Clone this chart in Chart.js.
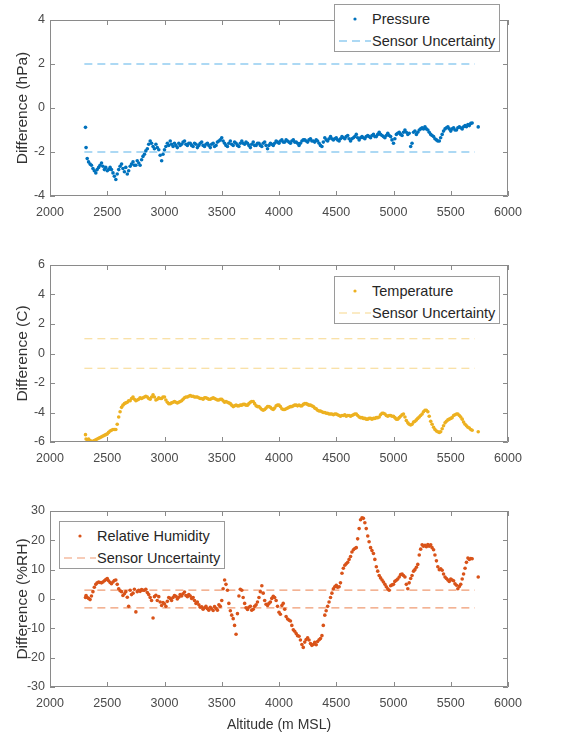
<!DOCTYPE html>
<html>
<head>
<meta charset="utf-8">
<script src="https://cdn.jsdelivr.net/npm/chart.js@4.4.1/dist/chart.umd.min.js"></script>
<style>
  body { margin: 0; background: #fff; }
  #wrap { position: relative; width: 582px; height: 734px; overflow: hidden; font-family: "Liberation Sans", Arial, sans-serif; }
  #wrap canvas { position: absolute; left: 0; }
  .legend { position: absolute; width: 166px; height: 48px; background: #fff; border: 1px solid #9a9a9a; box-sizing: border-box; color: #262626; font-size: 14.5px; }
  .legend span { position: absolute; left: 37px; white-space: nowrap; line-height: 16px; margin-top: -8px; }
  .legend svg { position: absolute; }
</style>
</head>
<body>
<div id="wrap">
  <canvas id="chartPressure" width="582" height="232" style="top:0px"></canvas>
  <canvas id="chartTemperature" width="582" height="232" style="top:245px"></canvas>
  <canvas id="chartHumidity" width="582" height="243" style="top:491px"></canvas>
</div>
<script>
// altitude of each sample (m MSL)
const altitude = [
  2310, 2315,
  2325, 2337, 2350, 2362, 2375, 2387, 2400, 2412, 2425, 2437, 2450, 2462, 2475, 2487, 2500, 2512, 2525, 2537, 2550, 2562,
  2575, 2587, 2600, 2612, 2625, 2637, 2650, 2662, 2675, 2687, 2700, 2712, 2725, 2737, 2750, 2762, 2775, 2787, 2800, 2812,
  2825, 2837, 2850, 2862, 2875, 2887, 2900, 2912, 2925, 2937, 2950, 2962, 2975, 2987, 3000, 3012, 3025, 3037, 3050, 3062,
  3075, 3087, 3100, 3112, 3125, 3137, 3150, 3162, 3175, 3187, 3200, 3212, 3225, 3237, 3250, 3262, 3275, 3287, 3300, 3312,
  3325, 3337, 3350, 3362, 3375, 3387, 3400, 3412, 3425, 3437, 3450, 3462, 3475, 3487, 3500, 3512, 3525, 3537, 3550, 3562,
  3575, 3587, 3600, 3612, 3625, 3637, 3650, 3662, 3675, 3687, 3700, 3712, 3725, 3737, 3750, 3762, 3775, 3787, 3800, 3812,
  3825, 3837, 3850, 3862, 3875, 3887, 3900, 3912, 3925, 3937, 3950, 3962, 3975, 3987, 4000, 4012, 4025, 4037, 4050, 4062,
  4075, 4087, 4100, 4112, 4125, 4137, 4150, 4162, 4175, 4187, 4200, 4212, 4225, 4237, 4250, 4262, 4275, 4287, 4300, 4312,
  4325, 4337, 4350, 4362, 4375, 4387, 4400, 4412, 4425, 4437, 4450, 4462, 4475, 4487, 4500, 4512, 4525, 4537, 4550, 4562,
  4575, 4587, 4600, 4612, 4625, 4637, 4650, 4662, 4675, 4687, 4700, 4712, 4725, 4737, 4750, 4762, 4775, 4787, 4800, 4812,
  4825, 4837, 4850, 4862, 4875, 4887, 4900, 4912, 4925, 4937, 4950, 4962, 4975, 4987, 5000, 5012, 5025, 5037, 5050, 5062,
  5075, 5087, 5100, 5112, 5125, 5137, 5150, 5162, 5175, 5187, 5200, 5212, 5225, 5237, 5250, 5262, 5275, 5287, 5300, 5312,
  5325, 5337, 5350, 5362, 5375, 5387, 5400, 5412, 5425, 5437, 5450, 5462, 5475, 5487, 5500, 5512, 5525, 5537, 5550, 5562,
  5575, 5587, 5600, 5612, 5625, 5637, 5650, 5662, 5675, 5687,
  5740
];

// difference (hPa)
const pressureDiff = [
  -0.88, -1.8,
  -2.3, -2.45, -2.55, -2.6, -2.75, -2.85, -2.95, -2.8, -2.7, -2.6, -2.5, -2.65, -2.8, -2.7, -2.85, -2.8, -2.7, -2.8, -2.95, -3.1,
  -3.25, -3.0, -2.8, -2.65, -2.55, -2.75, -2.9, -2.7, -3.0, -2.85, -2.65, -2.55, -2.45, -2.6, -2.6, -2.4, -2.5, -2.6, -2.35, -2.2,
  -2.1, -1.95, -1.85, -1.65, -1.5, -1.6, -1.75, -1.85, -1.65, -1.8, -1.9, -2.15, -2.4, -2.1, -1.9, -1.75, -1.6, -1.7, -1.5, -1.65,
  -1.75, -1.6, -1.7, -1.8, -1.6, -1.7, -1.65, -1.55, -1.5, -1.65, -1.7, -1.6, -1.6, -1.7, -1.75, -1.6, -1.65, -1.8, -1.7, -1.6,
  -1.55, -1.7, -1.75, -1.65, -1.6, -1.7, -1.8, -1.65, -1.6, -1.75, -1.7, -1.55, -1.5, -1.45, -1.35, -1.5, -1.6, -1.7, -1.75, -1.6,
  -1.5, -1.65, -1.7, -1.55, -1.6, -1.7, -1.75, -1.6, -1.5, -1.6, -1.65, -1.55, -1.6, -1.7, -1.8, -1.65, -1.55, -1.7, -1.7, -1.6,
  -1.6, -1.7, -1.75, -1.6, -1.55, -1.7, -1.85, -1.7, -1.6, -1.65, -1.7, -1.6, -1.5, -1.55, -1.6, -1.5, -1.45, -1.55, -1.55, -1.45,
  -1.5, -1.55, -1.6, -1.5, -1.45, -1.55, -1.55, -1.6, -1.7, -1.6, -1.5, -1.45, -1.45, -1.5, -1.55, -1.45, -1.4, -1.5, -1.5, -1.55,
  -1.45, -1.5, -1.6, -1.7, -1.75, -1.55, -1.35, -1.45, -1.5, -1.4, -1.3, -1.4, -1.45, -1.4, -1.35, -1.45, -1.5, -1.4, -1.3, -1.35,
  -1.4, -1.3, -1.25, -1.4, -1.5, -1.4, -1.35, -1.3, -1.2, -1.35, -1.45, -1.35, -1.3, -1.35, -1.4, -1.3, -1.25, -1.3, -1.35, -1.25,
  -1.2, -1.3, -1.3, -1.2, -1.1, -1.2, -1.25, -1.3, -1.35, -1.25, -1.15, -1.25, -1.3, -1.45, -1.6, -1.4, -1.2, -1.15, -1.1, -1.2,
  -1.25, -1.1, -1.0, -1.1, -1.2, -1.15, -1.75, -1.6, -1.1, -1.05, -1.2, -1.1, -1.0, -0.95, -0.9, -0.95, -0.85, -0.95, -1.0, -1.1,
  -1.2, -1.25, -1.3, -1.4, -1.45, -1.5, -1.5, -1.35, -1.2, -1.05, -0.95, -0.9, -0.85, -0.95, -1.05, -0.95, -0.9, -1.0, -1.0, -0.9,
  -0.85, -0.9, -0.95, -0.85, -0.8, -0.85, -0.75, -0.8, -0.7, -0.68,
  -0.86
];

// difference (C)
const temperatureDiff = [
  -5.5, -5.8,
  -5.85, -5.8, -5.9, -5.95, -5.95, -5.9, -5.85, -5.8, -5.75, -5.7, -5.65, -5.6, -5.55, -5.5, -5.45, -5.35, -5.25, -5.2, -5.15, -5.15,
  -5.15, -4.8, -4.3, -3.95, -3.65, -3.5, -3.4, -3.35, -3.3, -3.2, -3.2, -3.05, -2.95, -3.1, -3.2, -3.15, -3.1, -3.0, -3.05, -3.0,
  -2.95, -2.9, -2.95, -3.05, -3.1, -2.95, -2.8, -2.95, -3.15, -3.1, -3.0, -3.05, -3.05, -2.95, -2.95, -3.15, -3.3, -3.4, -3.4, -3.35,
  -3.3, -3.25, -3.3, -3.35, -3.3, -3.25, -3.2, -3.1, -3.0, -2.95, -2.95, -2.9, -2.85, -2.9, -2.9, -2.95, -2.95, -2.95, -3.0, -3.05,
  -3.05, -3.1, -3.0, -3.0, -3.05, -3.1, -3.1, -3.05, -3.0, -3.05, -3.1, -3.15, -3.15, -3.1, -3.1, -3.2, -3.3, -3.25, -3.3, -3.35,
  -3.4, -3.5, -3.6, -3.55, -3.5, -3.55, -3.55, -3.5, -3.5, -3.45, -3.45, -3.5, -3.5, -3.4, -3.3, -3.25, -3.25, -3.4, -3.55, -3.6,
  -3.6, -3.7, -3.8, -3.85, -3.8, -3.7, -3.6, -3.6, -3.65, -3.75, -3.8, -3.7, -3.55, -3.5, -3.5, -3.6, -3.75, -3.8, -3.8, -3.75,
  -3.7, -3.65, -3.6, -3.6, -3.55, -3.5, -3.5, -3.55, -3.5, -3.55, -3.55, -3.45, -3.4, -3.4, -3.45, -3.5, -3.5, -3.55, -3.6, -3.7,
  -3.75, -3.85, -3.9, -3.9, -3.95, -4.0, -4.0, -4.05, -4.05, -4.1, -4.1, -4.1, -4.15, -4.1, -4.1, -4.15, -4.2, -4.25, -4.2, -4.2,
  -4.15, -4.25, -4.2, -4.2, -4.25, -4.2, -4.15, -4.1, -4.1, -4.2, -4.3, -4.35, -4.35, -4.4, -4.4, -4.45, -4.45, -4.4, -4.4, -4.45,
  -4.4, -4.4, -4.35, -4.35, -4.3, -4.15, -4.05, -4.05, -4.1, -4.2, -4.25, -4.2, -4.2, -4.25, -4.25, -4.35, -4.45, -4.45, -4.35, -4.25,
  -4.15, -4.1, -4.3, -4.55, -4.7, -4.8, -4.85, -4.8, -4.65, -4.6, -4.5, -4.4, -4.3, -4.2, -4.1, -3.95, -3.85, -3.85, -3.95, -4.25,
  -4.6, -4.8, -5.0, -5.15, -5.25, -5.3, -5.35, -5.3, -5.1, -4.9, -4.7, -4.6, -4.5, -4.45, -4.4, -4.35, -4.2, -4.15, -4.1, -4.1,
  -4.2, -4.3, -4.45, -4.65, -4.8, -4.9, -5.0, -5.05, -5.15, -5.2,
  -5.3
];

// difference (%RH)
const humidityDiff = [
  0.5, 1.2,
  0.5, 0.2, -0.2, 1.0, 2.5, 4.0, 5.0, 5.5, 5.8, 5.6, 5.5, 5.8, 6.2, 6.6, 7.0, 6.2, 5.6, 5.2, 5.8, 6.3,
  6.5, 5.0, 3.5, 2.8, 2.5, 1.2, 1.8, 2.5, 0.6, -2.5, 3.0, 1.5, 2.0, 3.3, -4.4, 2.5, 3.0, 2.6, 3.2, 3.0,
  3.0, 3.3, 2.2, 1.5, 0.5, -0.5, -6.5, 0.8, 1.3, -0.5, 0.8, -1.0, -2.2, -1.2, -1.6, -2.5, -0.8, 0.5, 0.2, -0.5,
  0.5, 1.2, 0.9, 0.0, 0.6, 1.5, 1.0, 1.8, 2.4, 1.2, 0.8, 1.5, 1.0, 0.2, 0.5, -0.5, -1.5, -1.0, -2.0, -2.8,
  -2.7, -3.5, -3.0, -2.5, -3.3, -3.8, -2.8, -3.3, -3.9, -2.6, -3.2, -3.8, -2.0, -2.5, -0.5, 3.5, 6.5, 5.0, 3.0, -1.5,
  -4.0, -5.5, -6.7, -9.0, -12.0, -5.0, 1.0, 3.3, 3.0, 0.5, -1.5, -3.0, -3.6, -2.8, -2.5, -3.8, -3.5, -2.5, -2.0, -1.0,
  0.5, 2.5, 4.5, 2.0, -0.5, -1.8, -2.2, -1.5, -1.0, 0.2, 0.9, 0.5, -0.5, -2.5, -4.5, -5.2, -2.2, -1.5, -3.5, -6.0,
  -6.8, -7.2, -7.5, -9.0, -10.5, -11.0, -11.8, -12.5, -12.7, -14.0, -15.5, -16.5, -14.7, -13.8, -13.2, -14.0, -15.2, -15.8, -15.5, -14.8,
  -15.6, -14.5, -13.9, -13.5, -12.5, -9.0, -5.5, -4.0, -2.5, -1.0, 0.5, 2.0, 3.5, 4.2, 4.7, 4.0, 4.2, 5.5, 8.8, 10.5,
  11.5, 12.0, 12.5, 13.5, 14.5, 16.0, 16.8, 17.2, 17.5, 20.5, 24.0, 27.0, 27.7, 27.5, 26.0, 24.0, 21.5, 19.5, 17.5, 16.5,
  15.5, 13.5, 11.0, 9.5, 8.0, 7.2, 6.5, 5.8, 5.0, 4.2, 3.5, 3.0, 4.5, 4.8, 5.0, 6.0, 6.4, 6.8, 7.5, 8.3,
  8.5, 8.0, 7.5, 5.0, 3.5, 5.5, 7.0, 8.0, 9.5, 10.0, 10.8, 11.8, 15.0, 17.0, 18.5, 18.0, 18.3, 17.8, 18.6, 18.0,
  18.5, 17.5, 16.8, 15.0, 13.0, 11.0, 10.0, 10.3, 9.8, 8.5, 7.5, 7.0, 6.5, 6.0, 6.8, 6.5, 6.2, 5.2, 4.7, 3.5,
  4.3, 5.0, 6.8, 8.5, 10.5, 12.5, 14.0, 13.5, 13.8, 13.7,
  7.5
];

// sensor uncertainty lines (+/-)
const uncertaintyAltitude = [2300, 5710];
const pressureUncertainty = 2;
const temperatureUncertainty = 1;
const humidityUncertainty = 3;

// tick labels
const altitudeTicks = [2000, 2500, 3000, 3500, 4000, 4500, 5000, 5500, 6000];
const pressureTicks = [-4, -2, 0, 2, 4];
const temperatureTicks = [-6, -4, -2, 0, 2, 4, 6];
const humidityTicks = [-30, -20, -10, 0, 10, 20, 30];

Chart.defaults.font.family = '"Liberation Sans", Arial, sans-serif';

// matlab style box with inward ticks on all four sides
const framePlugin = {
  id: 'matlabBox',
  afterDatasetsDraw(chart) {
    const ctx = chart.ctx;
    const a = chart.chartArea;
    const x = chart.scales.x;
    const y = chart.scales.y;
    ctx.save();
    ctx.strokeStyle = '#8a8a8a';
    ctx.lineWidth = 1;
    ctx.setLineDash([]);
    ctx.beginPath();
    ctx.rect(a.left + 0.5, a.top + 0.5, a.right - a.left - 1, a.bottom - a.top - 1);
    x.ticks.forEach(t => {
      const px = Math.round(x.getPixelForValue(t.value)) + 0.5;
      ctx.moveTo(px, a.bottom); ctx.lineTo(px, a.bottom - 5);
      ctx.moveTo(px, a.top); ctx.lineTo(px, a.top + 5);
    });
    y.ticks.forEach(t => {
      const py = Math.round(y.getPixelForValue(t.value)) + 0.5;
      ctx.moveTo(a.left, py); ctx.lineTo(a.left + 5, py);
      ctx.moveTo(a.right, py); ctx.lineTo(a.right - 5, py);
    });
    ctx.stroke();
    ctx.restore();
  }
};
Chart.register(framePlugin);

function makePanel(id, cfg) {
  const points = altitude.map((a, i) => ({x: a, y: cfg.values[i]}));
  const limitLine = sign => uncertaintyAltitude.map(a => ({x: a, y: sign * cfg.limit}));
  const dashed = sign => ({
    type: 'line',
    data: limitLine(sign),
    borderColor: cfg.dashColor,
    borderWidth: 1.2,
    borderDash: [8, 5],
    pointRadius: 0,
    fill: false
  });
  return new Chart(document.getElementById(id), {
    type: 'scatter',
    data: {
      datasets: [
        { data: points, backgroundColor: cfg.color, pointRadius: 1.8, pointBorderWidth: 0, pointHoverRadius: 0 },
        dashed(1),
        dashed(-1)
      ]
    },
    options: {
      responsive: false,
      animation: false,
      events: [],
      layout: { padding: { top: 20, right: 74, left: 0, bottom: 0 } },
      plugins: { legend: { display: false }, tooltip: { enabled: false } },
      scales: {
        x: {
          type: 'linear',
          min: 2000,
          max: 6000,
          afterBuildTicks: s => { s.ticks = altitudeTicks.map(v => ({value: v})); },
          afterFit: s => { s.height = cfg.xHeight; },
          grid: { display: false, drawTicks: false },
          border: { display: false },
          ticks: { color: '#4a4a4a', font: { size: 12.5 }, padding: 9, maxRotation: 0, callback: v => String(v) },
          title: {
            display: !!cfg.xTitle,
            text: cfg.xTitle || '',
            color: '#333',
            font: { size: 14 },
            padding: { top: 0, bottom: 0 }
          }
        },
        y: {
          min: cfg.ticks[0],
          max: cfg.ticks[cfg.ticks.length - 1],
          afterBuildTicks: s => { s.ticks = cfg.ticks.map(v => ({value: v})); },
          afterFit: s => { s.width = 50; },
          grid: { display: false, drawTicks: false },
          border: { display: false },
          ticks: { color: '#4a4a4a', font: { size: 12.5 }, padding: 5, callback: v => String(v) },
          title: {
            display: true,
            text: cfg.yTitle,
            color: '#333',
            font: { size: 15.5 },
            padding: { top: 13, bottom: 0 }
          }
        }
      }
    }
  });
}

function addLegend(left, top, color, dashColor, label) {
  const box = document.createElement('div');
  box.className = 'legend';
  box.style.left = left + 'px';
  box.style.top = top + 'px';
  box.innerHTML =
    `<svg width="6" height="6" style="left:17px;top:11px"><circle cx="3" cy="3" r="1.6" fill="${color}"/></svg>` +
    `<span style="top:14px">${label}</span>` +
    `<svg width="32" height="4" style="left:4px;top:34px"><line x1="0" y1="2" x2="32" y2="2" stroke="${dashColor}" stroke-width="1.2" stroke-dasharray="8 5"/></svg>` +
    `<span style="top:36px">Sensor Uncertainty</span>`;
  document.getElementById('wrap').appendChild(box);
}

makePanel('chartPressure', {
  values: pressureDiff, limit: pressureUncertainty, ticks: pressureTicks,
  color: '#0072BD', dashColor: '#5DB3EA', yTitle: 'Difference (hPa)', xHeight: 36
});
makePanel('chartTemperature', {
  values: temperatureDiff, limit: temperatureUncertainty, ticks: temperatureTicks,
  color: '#EDB120', dashColor: '#F8D88C', yTitle: 'Difference (C)', xHeight: 35
});
makePanel('chartHumidity', {
  values: humidityDiff, limit: humidityUncertainty, ticks: humidityTicks,
  color: '#D95319', dashColor: '#F09A72', yTitle: 'Difference (%RH)', xHeight: 47,
  xTitle: 'Altitude (m MSL)'
});

addLegend(334, 4, '#0072BD', '#5DB3EA', 'Pressure');
addLegend(334, 276, '#EDB120', '#F8D88C', 'Temperature');
addLegend(59, 521, '#D95319', '#F09A72', 'Relative Humidity');
</script>
</body>
</html>
